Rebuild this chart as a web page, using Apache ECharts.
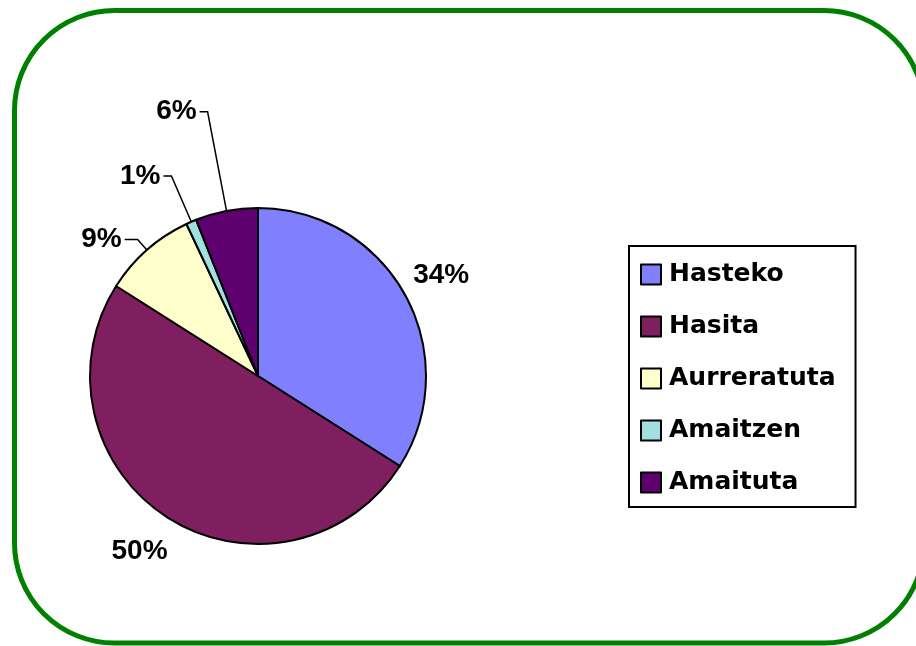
<!DOCTYPE html>
<html>
<head>
<meta charset="utf-8">
<script src="https://cdn.jsdelivr.net/npm/echarts@6/dist/echarts.min.js"></script>
<style>
  html, body { margin: 0; padding: 0; background: #fff; }
  #chart { width: 916px; height: 646px; }
</style>
</head>
<body>
<div id="chart"></div>
<script>
// datuak
var categories = ['Hasteko', 'Hasita', 'Aurreratuta', 'Amaitzen', 'Amaituta'];
var values = [34, 50, 9, 1, 6];
var colors = ['#8080FF', '#7F1F5F', '#FFFFCC', '#A0E0E0', '#5F006F'];

// etiketen lerroak (luzera, luzera2, ikusgai)
var lineLen = [41, 40, 14, 50, 101];
var lineLen2 = [0, 0, 13, 8, 8];
var lineShow = [false, false, true, true, true];

var chart = echarts.init(document.getElementById('chart'));

var pieData = [];
for (var i = 0; i < categories.length; i++) {
    pieData.push({
        name: categories[i],
        value: values[i],
        itemStyle: { color: colors[i] },
        label: { distanceToLabelLine: lineShow[i] ? 3 : 0 },
        labelLine: { show: lineShow[i], length: lineLen[i], length2: lineLen2[i] }
    });
}

var option = {
    animation: false,
    backgroundColor: '#fff',
    graphic: [{
        type: 'rect',
        shape: { x: 14.5, y: 10.5, width: 909.5, height: 632.5, r: 100 },
        style: { fill: 'none', stroke: '#008000', lineWidth: 5 },
        silent: true
    }],
    legend: {
        orient: 'vertical',
        left: 629,
        top: 246,
        padding: [16, 20, 12, 11],
        borderColor: '#000',
        borderWidth: 2,
        itemWidth: 20,
        itemHeight: 20,
        itemGap: 27,
        icon: 'rect',
        itemStyle: { borderColor: '#000', borderWidth: 2 },
        textStyle: {
            fontFamily: 'DejaVu Sans',
            fontWeight: 'bold',
            fontSize: 25,
            color: '#000',
            padding: [0, 0, 0, 3]
        },
        data: categories
    },
    series: [{
        type: 'pie',
        center: [258, 376],
        radius: 168,
        startAngle: 90,
        clockwise: true,
        avoidLabelOverlap: false,
        itemStyle: { borderColor: '#000', borderWidth: 2 },
        label: {
            position: 'outside',
            fontFamily: 'Liberation Sans, Arial, sans-serif',
            fontWeight: 'bold',
            fontSize: 28,
            color: '#000',
            formatter: function (p) { return Math.round(p.percent) + '%'; }
        },
        labelLine: {
            lineStyle: { color: '#000', width: 1.5 }
        },
        labelLayout: function (params) {
            if (params.dataIndex === 1) {
                return { align: 'center', dx: -7 };
            }
            if (!lineShow[params.dataIndex]) {
                return { align: 'center' };
            }
        },
        emphasis: { disabled: true },
        data: pieData
    }]
};

chart.setOption(option);
</script>
</body>
</html>
